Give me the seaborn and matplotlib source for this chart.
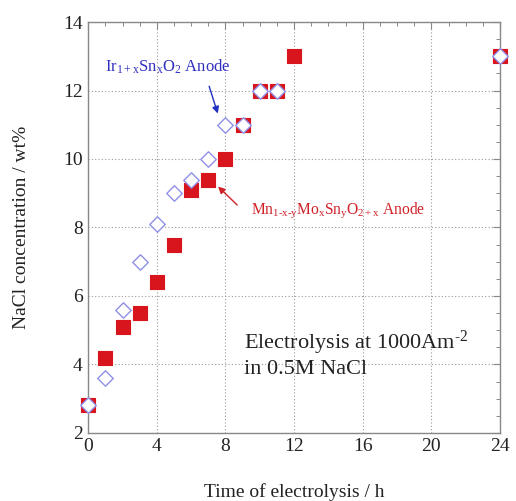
import matplotlib
matplotlib.use("Agg")
import matplotlib.pyplot as plt
from matplotlib.ticker import MultipleLocator
import seaborn as sns
import pandas as pd

# Mn-Mo-Sn oxide anode
mn_time = [0, 1, 2, 3, 4, 5, 6, 7, 8, 9, 10, 11, 12, 24]
mn_conc = [2.8, 4.2, 5.1, 5.5, 6.4, 7.5, 9.1, 9.4, 10.0, 11.0, 12.0, 12.0, 13.0, 13.0]

# Ir-Sn oxide anode
ir_time = [0, 1, 2, 3, 4, 5, 6, 7, 8, 9, 10, 11, 24]
ir_conc = [2.8, 3.6, 5.6, 7.0, 8.1, 9.0, 9.4, 10.0, 11.0, 11.0, 12.0, 12.0, 13.0]

x_ticks = [0, 4, 8, 12, 16, 20, 24]
y_ticks = [2, 4, 6, 8, 10, 12, 14]

sns.set_theme(style="white")
plt.rcParams["font.family"] = ["Liberation Serif", "DejaVu Serif"]
plt.rcParams["mathtext.fontset"] = "custom"
plt.rcParams["mathtext.rm"] = "Liberation Serif"
plt.rcParams["mathtext.it"] = "Liberation Serif"

mn_df = pd.DataFrame({"t": mn_time, "c": mn_conc})
ir_df = pd.DataFrame({"t": ir_time, "c": ir_conc})

fig = plt.figure(figsize=(5.16, 5.01), dpi=100)
ax = fig.add_axes([0.171, 0.136, 0.798, 0.820])

sns.scatterplot(data=mn_df, x="t", y="c", marker="s", s=105, color="#d8141c",
                edgecolor="#d8141c", linewidth=0.8, ax=ax, zorder=3, clip_on=False)
sns.scatterplot(data=ir_df, x="t", y="c", marker="D", s=62, color="white",
                edgecolor="#8f8fe8", linewidth=1.0, ax=ax, zorder=4, clip_on=False)

ax.set_xlim(0, 24)
ax.set_ylim(2, 14)
ax.set_xticks(x_ticks)
ax.set_yticks(y_ticks)
ax.xaxis.set_minor_locator(MultipleLocator(1))
ax.yaxis.set_minor_locator(MultipleLocator(0.5))
ax.tick_params(which="both", direction="in", top=True, right=True,
               color="#888888", labelsize=14, labelcolor="#222222")
ax.tick_params(which="major", length=5, width=0.8, pad=4)
ax.tick_params(which="minor", length=3, width=0.7)
for sp in ax.spines.values():
    sp.set_color("#888888")
    sp.set_linewidth(1.0)
ax.grid(True, which="major", linestyle=(0, (1, 2)), color="#999999", linewidth=0.8)

ax.set_xlabel("Time of electrolysis / h", fontsize=14, color="#222222", labelpad=20)
ax.set_ylabel("NaCl concentration / wt%", fontsize=14, color="#222222", labelpad=24)

ax.text(1.0, 12.7, r"Ir$_{1+x}$Sn$_x$O$_2$ Anode", color="#3030c0", fontsize=12,
        va="center", ha="left")
ax.annotate("", xy=(7.6, 11.25), xytext=(7.0, 12.2),
            arrowprops=dict(arrowstyle="-|>", color="#2030c0", lw=1.0,
                            mutation_scale=10))

ax.text(9.5, 8.5, r"Mn$_{1\text{-}x\text{-}y}$Mo$_x$Sn$_y$O$_{2+x}$ Anode", color="#d02028",
        fontsize=11.2, va="center", ha="left")
ax.annotate("", xy=(7.45, 9.25), xytext=(8.8, 8.6),
            arrowprops=dict(arrowstyle="-|>", color="#d02028", lw=1.0,
                            mutation_scale=10))

ax.text(9.05, 4.3, "Electrolysis at 1000Am$^{\\text{-}2}$\nin 0.5M NaCl", fontsize=16,
        color="#222222", va="center", ha="left", linespacing=1.25)

fig.savefig("out.png", dpi=100, facecolor="white")
